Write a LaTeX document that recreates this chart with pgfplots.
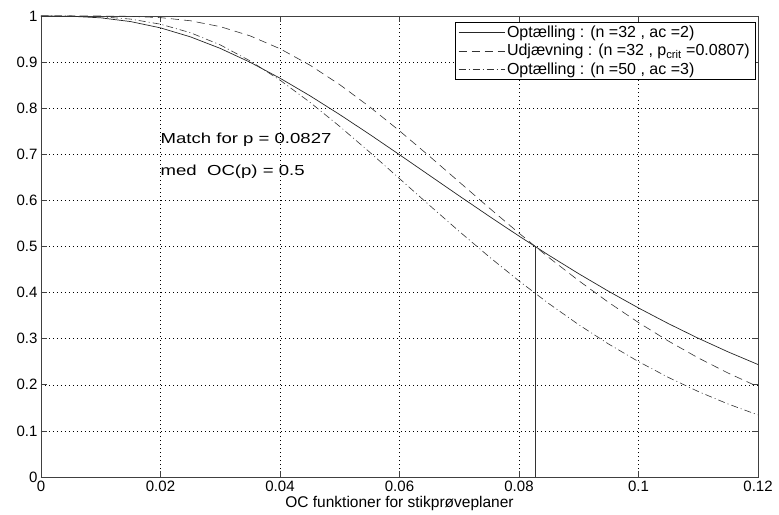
\documentclass[border=0pt]{standalone}
\usepackage{fontspec}
\setmainfont{Liberation Sans}
\usepackage{graphicx}
\usepackage{pgfplots}
\usepackage{pgfplotstable}
\pgfplotsset{compat=1.18}
\pgfplotstableread{
p s d dd
0 1 1 1
0.005 0.99944 1.00000 0.99992
0.01 0.99601 0.99993 0.99844
0.015 0.98788 0.99922 0.99328
0.02 0.97423 0.99645 0.98224
0.025 0.95480 0.98966 0.96381
0.03 0.92973 0.97691 0.93729
0.035 0.89960 0.95688 0.90267
0.04 0.86512 0.92900 0.86087
0.045 0.82705 0.89345 0.81297
0.05 0.78612 0.85108 0.76041
0.055 0.74328 0.80303 0.70470
0.06 0.69909 0.75089 0.64730
0.065 0.65439 0.69598 0.58959
0.07 0.60975 0.63990 0.53274
0.075 0.56570 0.58379 0.47772
0.08 0.52262 0.52898 0.42529
0.085 0.48094 0.47600 0.37606
0.09 0.44092 0.42583 0.33032
0.095 0.40278 0.37870 0.28840
0.1 0.36668 0.33502 0.25029
0.105 0.33274 0.29491 0.21601
0.11 0.30095 0.25830 0.18541
0.115 0.27138 0.22543 0.15833
0.12 0.24401 0.19583 0.13460
}\datatab
\begin{document}
\begin{tikzpicture}
\begin{axis}[
  name=ax,
  scale only axis,
  width=717pt, height=461pt,
  xmin=0, xmax=0.12, ymin=0, ymax=1,
  xtick={0,0.02,0.04,0.06,0.08,0.1,0.12},
  xticklabels={0,0.02,0.04,0.06,0.08,0.1,0.12},
  ytick={0,0.1,0.2,0.3,0.4,0.5,0.6,0.7,0.8,0.9,1},
  yticklabels={0,0.1,0.2,0.3,0.4,0.5,0.6,0.7,0.8,0.9,1},
  tick align=inside,
  major tick length=6pt,
  axis line style={black!75, line width=0.8pt},
  every tick/.style={black!75, line width=0.6pt},
  grid=major,
  major grid style={black, line width=0.45pt, dash pattern=on 1pt off 3pt},
  font=\fontsize{15}{17}\selectfont,
  tick label style={font=\fontsize{15}{17}\selectfont},
  xlabel={OC funktioner for stikprøveplaner},
  xlabel style={font=\fontsize{15.5}{17}\selectfont, yshift=2pt},
  legend cell align=left,
  legend style={at={(0.996,0.987)}, anchor=north east, draw=black, line width=0.6pt,
    font=\fontsize{16}{17}\selectfont, inner xsep=3pt, inner ysep=2pt, row sep=1pt},
  legend image code/.code={\draw[#1] (0pt,0pt) -- (46pt,0pt);},
]
\addplot[black!85, line width=0.7pt] table[x=p, y=s] {\datatab};
\addlegendentry{Optælling : (n =32 , ac =2)}
\addplot[black!80, line width=0.6pt, dash pattern=on 8pt off 5pt] table[x=p, y=d] {\datatab};
\addlegendentry{Udjævning : (n =32 , p\textsubscript{crit} =0.0807)}
\addplot[black!80, line width=0.6pt, dash pattern=on 7pt off 3pt on 1pt off 3pt] table[x=p, y=dd] {\datatab};
\addlegendentry{Optælling : (n =50 , ac =3)}
\addplot[black!80, line width=0.8pt, forget plot] coordinates {(0.0827,0) (0.0827,0.5)};
\node[anchor=west, inner sep=0pt, font=\fontsize{14.5}{17}\selectfont] at (axis cs:0.02,0.732) {\scalebox{1.28}[1]{Match for p = 0.0827}};
\node[anchor=west, inner sep=0pt, font=\fontsize{14.5}{17}\selectfont] at (axis cs:0.02,0.663) {\scalebox{1.28}[1]{med\ \ OC(p) = 0.5}};
\end{axis}
\path ([xshift=-41pt,yshift=-37pt]ax.south west) rectangle ([xshift=21pt,yshift=16pt]ax.north east);
\end{tikzpicture}
\end{document}
